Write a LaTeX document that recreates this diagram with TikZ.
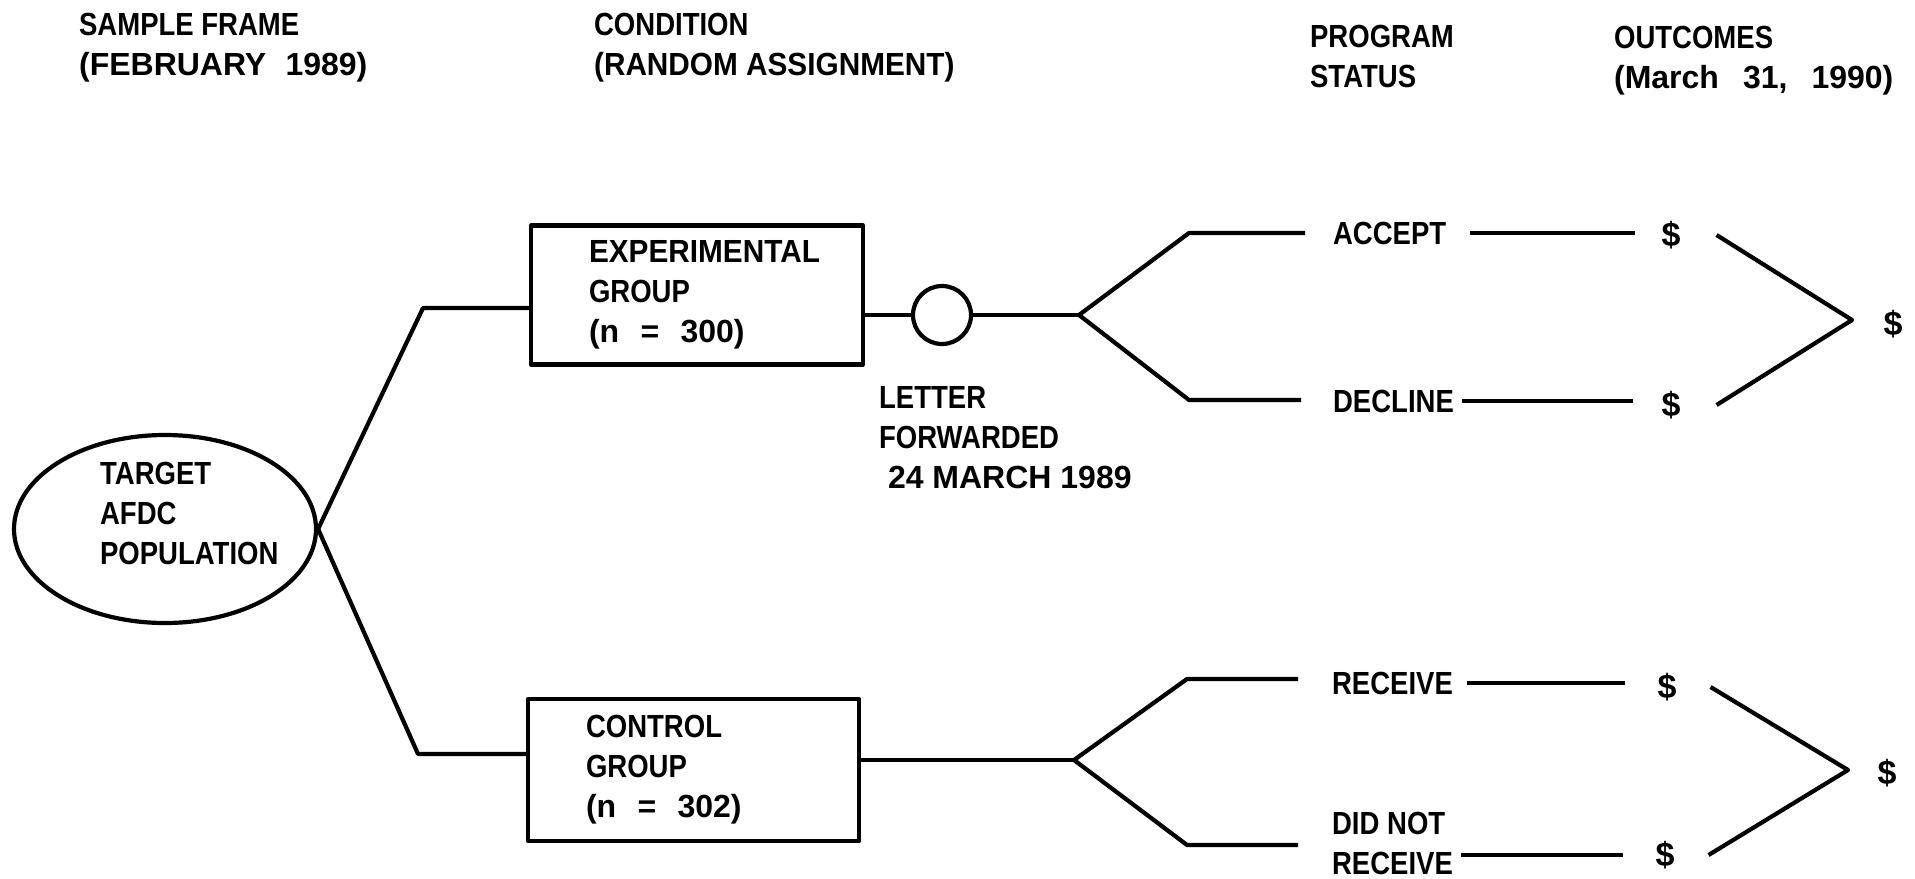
\documentclass[tikz,border=0pt]{standalone}
\usepackage{fontspec}
\setmainfont{Liberation Sans}
\newfontfamily\condf[FakeStretch=0.86]{Liberation Sans}
\newfontfamily\condw[FakeStretch=0.93]{Liberation Sans}
\usetikzlibrary{shapes.geometric}
\begin{document}
\begin{tikzpicture}[x=0.5pt,y=-0.5pt,line width=2.1pt,line join=round,
  lbl/.style={inner sep=0pt,anchor=west,align=left,font=\fontsize{16}{20}\selectfont\condf\bfseries},
  plain/.style={inner sep=0pt,anchor=west,align=left,font=\fontsize{16}{20}\selectfont\bfseries},
  dollar/.style={inner sep=0pt,font=\fontsize{17}{20}\selectfont\bfseries},
  groupbox/.style={draw,line width=2.1pt,align=left,font=\fontsize{16}{20}\selectfont\condf\bfseries},
  ]
\useasboundingbox (0,0) rectangle (1915,878);

% headers
\node[plain] (h1) at (77,48) {{\condf\bfseries SAMPLE FRAME}\\(FEBRUARY\hspace{0.6em}1989)};
\node[plain] (h2) at (592,48) {{\condf\bfseries CONDITION}\\{\condw\bfseries (RANDOM ASSIGNMENT)}};
\node[lbl] (h3) at (1308,56) {PROGRAM\\STATUS};
\node[plain] (h4) at (1612,61) {{\condf\bfseries OUTCOMES}\\(March\hspace{0.75em}31,\hspace{0.75em}1990)};

% population
\node[draw,ellipse,minimum width=151pt,minimum height=94pt,inner sep=0pt] (pop) at (165,529) {};
\node[lbl] (poptxt) at (98,513) {TARGET\\AFDC\\POPULATION};

% group boxes
\node[groupbox,text width=108pt,inner xsep=29pt,minimum height=69.5pt] (exp) at (697,295)
  {{\condw\bfseries EXPERIMENTAL}\\GROUP\\{\rmfamily\bfseries(n\ \ =\ \ 300)}};
\node[groupbox,text width=107.5pt,inner xsep=29pt,minimum height=71pt] (ctl) at (693.5,770)
  {CONTROL\\GROUP\\{\rmfamily\bfseries(n\ \ =\ \ 302)}};

\coordinate (c1) at (423,308);
\coordinate (c2) at (418,754);
\draw (pop.east) -- (c1) -- (c1 -| exp.west);
\draw (pop.east) -- (c2) -- (c2 -| ctl.west);

% letter
\node[draw,circle,minimum size=29pt,inner sep=0pt] (let) at (942,315) {};
\node[plain] (lettxt) at (877,438) {{\condf\bfseries LETTER}\\{\condf\bfseries FORWARDED}\\\ 24 MARCH 1989};
\draw (let.west -| exp.east) -- (let.west);

% upper branch
\coordinate (b1) at (1079,315);
\coordinate (b1u) at (1189,233);
\coordinate (b1d) at (1189,400);
\node[lbl] (acc) at (1331,233) {ACCEPT};
\node[lbl] (dec) at (1331,401) {DECLINE};
\node[dollar] (dA) at (1671,235) {\$};
\node[dollar] (dD) at (1671,405) {\$};
\node[dollar] (dE) at (1893,324) {\$};
\coordinate (a1) at (1852,320);
\draw (let.east) -- (b1);
\draw[shorten >=13pt] (b1) -- (b1u) -- (b1u -| acc.west);
\draw[shorten >=15pt] (b1) -- (b1d) -- (b1d -| dec.west);
\draw[shorten <=11pt,shorten >=12pt] (acc.east) -- (acc.east -| dA.west);
\draw[shorten <=3pt,shorten >=13pt] (dec.east) -- (dec.east -| dD.west);
\draw ([xshift=17pt]dA.east) -- (a1) -- ([xshift=17pt]dD.east);

% lower branch
\coordinate (b2) at (1074,760);
\coordinate (b2u) at (1187,679);
\coordinate (b2d) at (1187,845);
\node[lbl] (rec) at (1330,683) {RECEIVE};
\node[lbl] (dnr) at (1330,843) {DID NOT\\RECEIVE};
\node[dollar] (dR) at (1667,687) {\$};
\node[dollar] (dN) at (1665,855) {\$};
\node[dollar] (dC) at (1887,773) {\$};
\coordinate (a2) at (1848,770);
\draw (b2 -| ctl.east) -- (b2);
\draw[shorten >=16pt] (b2) -- (b2u) -- (b2u -| rec.west);
\draw[shorten >=16pt] (b2) -- (b2d) -- (b2d -| dnr.west);
\draw[shorten <=6pt,shorten >=15pt] (rec.east) -- (rec.east -| dR.west);
\draw[shorten <=3pt,shorten >=15pt] (dnr.east |- dN) -- (dN.west);
\draw ([xshift=16pt]dR.east) -- (a2) -- ([xshift=16pt]dN.east);
\end{tikzpicture}
\end{document}
